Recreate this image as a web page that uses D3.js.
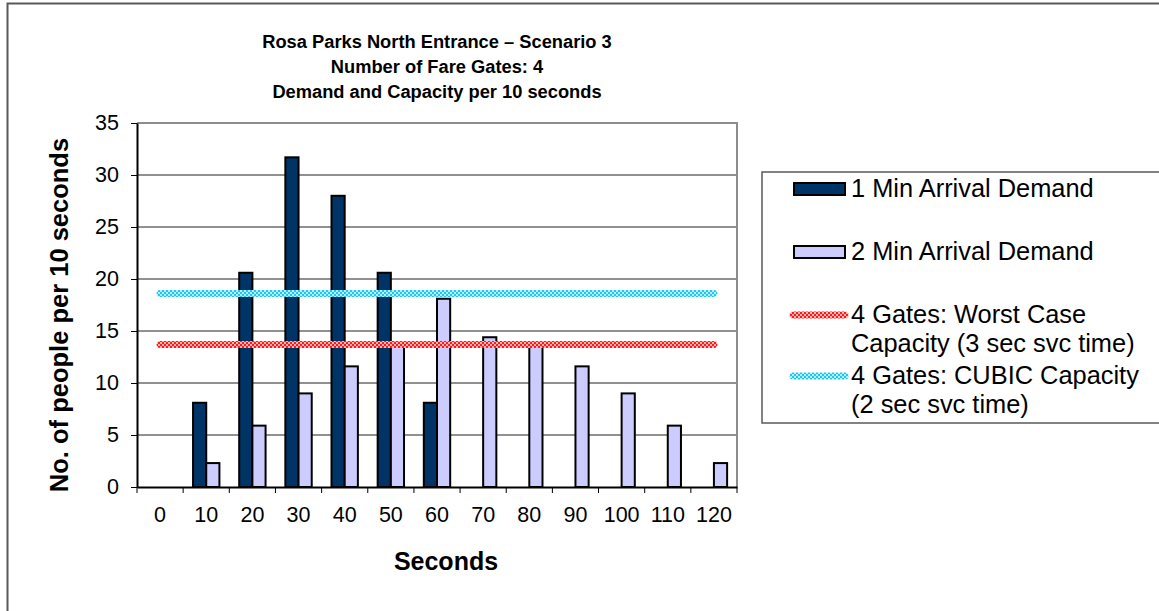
<!DOCTYPE html>
<html>
<head>
<meta charset="utf-8">
<script src="https://cdn.jsdelivr.net/npm/d3@7"></script>
<style>
  html, body { margin: 0; padding: 0; background: #fff; }
  svg { display: block; font-family: Arial, "Liberation Sans", sans-serif; }
</style>
</head>
<body>
<svg id="chart" width="1159" height="611"></svg>
<script>
// ---- data ----
const categories = ["0","10","20","30","40","50","60","70","80","90","100","110","120"];
const oneMinDemand = [0, 8.1, 20.6, 31.7, 28.0, 20.6, 8.1, 0, 0, 0, 0, 0, 0];
const twoMinDemand = [0, 2.3, 5.9, 9.0, 11.6, 13.6, 18.1, 14.4, 13.6, 11.6, 9.0, 5.9, 2.3];
const worstCaseCapacity = 13.7;
const cubicCapacity = 18.6;
const yTicks = [0, 5, 10, 15, 20, 25, 30, 35];
const seriesNames = ["1 Min Arrival Demand", "2 Min Arrival Demand"];
const titleLines = ["Rosa Parks North Entrance \u2013 Scenario 3", "Number of Fare Gates: 4", "Demand and Capacity per 10 seconds"];

// ---- layout ----
const svg = d3.select("#chart");
const plot = {left: 137, right: 737, top: 123, bottom: 487};

const x0 = d3.scaleBand().domain(categories).range([plot.left, plot.right]).padding(0);
const x1 = d3.scaleBand().domain(seriesNames).range([0, x0.bandwidth()]).paddingInner(0).paddingOuter(0.75);
const y = d3.scaleLinear().domain([0, 35]).range([plot.bottom, plot.top]);
const colors = {"1 Min Arrival Demand": "#003366", "2 Min Arrival Demand": "#ccccff"};

// patterns for capacity lines
const defs = svg.append("defs");
function checker(id, c1, c2) {
  const p = defs.append("pattern").attr("id", id).attr("patternUnits", "userSpaceOnUse")
    .attr("width", 4).attr("height", 4);
  p.append("rect").attr("width", 4).attr("height", 4).attr("fill", c2);
  p.append("rect").attr("x", 0).attr("y", 0).attr("width", 2).attr("height", 2).attr("fill", c1);
  p.append("rect").attr("x", 2).attr("y", 2).attr("width", 2).attr("height", 2).attr("fill", c1);
}
checker("redChk", "#ff1a1a", "#ffb3b3");
checker("cyanChk", "#1ec8f0", "#b8ecfb");

// outer border
svg.append("rect").attr("x", 7.5).attr("y", 3.5).attr("width", 1160).attr("height", 620)
  .attr("fill", "none").attr("stroke", "#595959").attr("stroke-width", 2);

// title
svg.append("g").selectAll("text").data(titleLines).join("text")
  .attr("x", 437).attr("y", (d, i) => 47.5 + i * 25)
  .attr("text-anchor", "middle").attr("font-weight", "bold").attr("font-size", 18.3)
  .attr("fill", "#000").text(d => d);

// gridlines
svg.append("g").selectAll("line").data(yTicks.filter(t => t > 0 && t < 35)).join("line")
  .attr("x1", plot.left).attr("x2", plot.right)
  .attr("y1", d => y(d)).attr("y2", d => y(d))
  .attr("stroke", "#222").attr("stroke-width", 1);

// plot border (top/right gray)
svg.append("path")
  .attr("d", `M${plot.left},${plot.top}H${plot.right}V${plot.bottom}`)
  .attr("fill", "none").attr("stroke", "#8c8c8c").attr("stroke-width", 2);

// bars
const rows = categories.map((c, i) => ({cat: c, vals: [
  {s: seriesNames[0], v: oneMinDemand[i]},
  {s: seriesNames[1], v: twoMinDemand[i]}
]}));
const groups = svg.append("g").selectAll("g").data(rows).join("g")
  .attr("transform", d => `translate(${x0(d.cat)},0)`);
groups.selectAll("rect").data(d => d.vals.filter(e => e.v > 0)).join("rect")
  .attr("x", d => x1(d.s)).attr("width", x1.bandwidth())
  .attr("y", d => y(d.v)).attr("height", d => y(0) - y(d.v))
  .attr("fill", d => colors[d.s]).attr("stroke", "#000").attr("stroke-width", 2);

// capacity lines
const lineGen = d3.line().x(d => x0(d.c) + x0.bandwidth() / 2).y(d => y(d.v));
[[worstCaseCapacity, "url(#redChk)"], [cubicCapacity, "url(#cyanChk)"]].forEach(([v, fill]) => {
  svg.append("path")
    .datum(categories.map(c => ({c, v})))
    .attr("d", lineGen)
    .attr("fill", "none").attr("stroke", fill).attr("stroke-width", 7).attr("stroke-linecap", "round");
});

// y axis
const yAxis = svg.append("g").attr("transform", `translate(${plot.left},0)`)
  .call(d3.axisLeft(y).tickValues(yTicks).tickSize(6).tickPadding(12).tickSizeOuter(0));
yAxis.select(".domain").attr("stroke", "#000").attr("stroke-width", 2);
yAxis.selectAll(".tick line").attr("stroke", "#000");
yAxis.selectAll("text").attr("font-size", 21.5).attr("font-family", "Arial, 'Liberation Sans', sans-serif").attr("fill", "#000");

// x axis: labels at centers
const xAxis = svg.append("g").attr("transform", `translate(0,${plot.bottom})`)
  .call(d3.axisBottom(x0).tickSize(0).tickPadding(20));
xAxis.select(".domain").attr("stroke", "#000").attr("stroke-width", 2);
xAxis.selectAll("text").attr("font-size", 21.5).attr("font-family", "Arial, 'Liberation Sans', sans-serif").attr("fill", "#000");
// tick marks at category boundaries
const bounds = categories.map(c => x0(c)).concat([plot.right]);
svg.append("g").selectAll("line").data(bounds).join("line")
  .attr("x1", d => d).attr("x2", d => d).attr("y1", plot.bottom).attr("y2", plot.bottom + 6)
  .attr("stroke", "#000").attr("stroke-width", 1);

// axis titles
svg.append("text").attr("transform", `translate(68,315) rotate(-90)`)
  .attr("text-anchor", "middle").attr("font-weight", "bold").attr("font-size", 25.5)
  .text("No. of people per 10 seconds");
svg.append("text").attr("x", 446).attr("y", 570)
  .attr("text-anchor", "middle").attr("font-weight", "bold").attr("font-size", 25)
  .text("Seconds");

// legend
const lg = svg.append("g");
lg.append("rect").attr("x", 762).attr("y", 172).attr("width", 420).attr("height", 251)
  .attr("fill", "#fff").attr("stroke", "#595959").attr("stroke-width", 1.5);
const legendItems = [
  {type: "bar", fill: colors[seriesNames[0]], lines: [seriesNames[0]], y: 197},
  {type: "bar", fill: colors[seriesNames[1]], lines: [seriesNames[1]], y: 260},
  {type: "line", fill: "url(#redChk)", lines: ["4 Gates: Worst Case", "Capacity (3 sec svc time)"], y: 323},
  {type: "line", fill: "url(#cyanChk)", lines: ["4 Gates: CUBIC Capacity", "(2 sec svc time)"], y: 384}
];
legendItems.forEach(it => {
  if (it.type === "bar") {
    lg.append("rect").attr("x", 794).attr("y", it.y - 14).attr("width", 51).attr("height", 12)
      .attr("fill", it.fill).attr("stroke", "#000").attr("stroke-width", 2);
  } else {
    lg.append("line").attr("x1", 793).attr("x2", 845).attr("y1", it.y - 8).attr("y2", it.y - 8)
      .attr("stroke", it.fill).attr("stroke-width", 7).attr("stroke-linecap", "round");
  }
  lg.append("text").attr("x", 851).attr("y", it.y).attr("font-size", 25.4).attr("fill", "#000")
    .selectAll("tspan").data(it.lines).join("tspan")
    .attr("x", 851).attr("dy", (d, i) => i === 0 ? 0 : 29).text(d => d);
});
</script>
</body>
</html>
